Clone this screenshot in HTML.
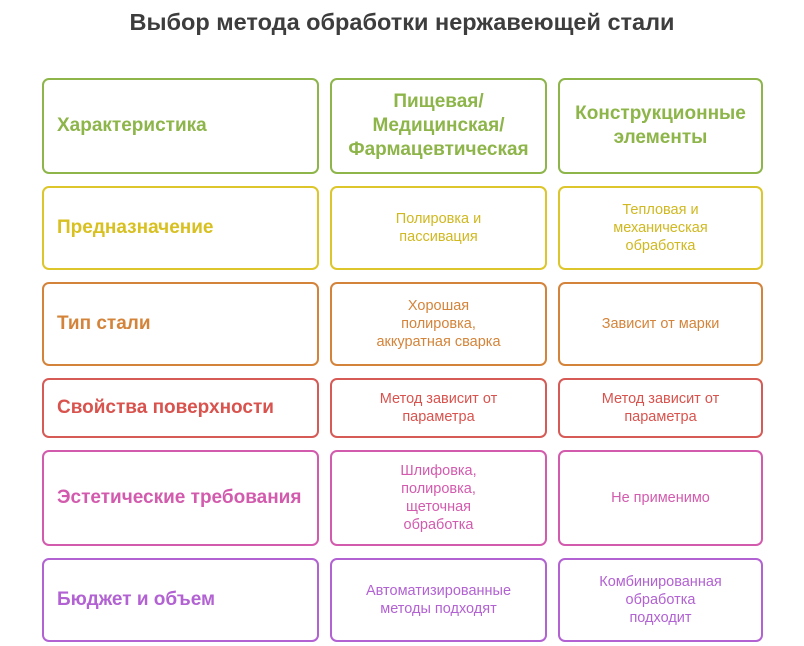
<!DOCTYPE html>
<html><head><meta charset="utf-8"><style>
body{margin:0;width:804px;height:646px;background:#fff;font-family:"Liberation Sans",sans-serif;position:relative;overflow:hidden}
.t{position:absolute;left:0;width:804px;top:9px;text-align:center;font-size:23.5px;font-weight:bold;color:#3d3d3d}
.b{position:absolute;box-sizing:border-box;border:2px solid;border-radius:7px;display:flex;align-items:center;justify-content:center;text-align:center;font-size:14.5px;line-height:18px;padding:0 6px}
.h{justify-content:flex-start;font-weight:bold;font-size:19px;padding-left:13px}
.hc{font-weight:bold;font-size:19px;line-height:24px}
</style></head><body>
<div class="t">Выбор метода обработки нержавеющей стали</div>

<div class="b h" style="left:42px;top:78px;width:277px;height:96px;border-color:#8db54a;color:#8db54a">Характеристика</div>
<div class="b hc" style="left:330px;top:78px;width:217px;height:96px;border-color:#8db54a;color:#8db54a">Пищевая/<br>Медицинская/<br>Фармацевтическая</div>
<div class="b hc" style="left:558px;top:78px;width:205px;height:96px;border-color:#8db54a;color:#8db54a">Конструкционные<br>элементы</div>

<div class="b h" style="left:42px;top:186px;width:277px;height:84px;border-color:#dcc62c;color:#d8c020">Предназначение</div>
<div class="b" style="left:330px;top:186px;width:217px;height:84px;border-color:#dcc62c;color:#d0b820">Полировка и<br>пассивация</div>
<div class="b" style="left:558px;top:186px;width:205px;height:84px;border-color:#dcc62c;color:#d0b820">Тепловая и<br>механическая<br>обработка</div>

<div class="b h" style="left:42px;top:282px;width:277px;height:84px;border-color:#d4843a;color:#d4843a">Тип стали</div>
<div class="b" style="left:330px;top:282px;width:217px;height:84px;border-color:#d4843a;color:#d4843a">Хорошая<br>полировка,<br>аккуратная сварка</div>
<div class="b" style="left:558px;top:282px;width:205px;height:84px;border-color:#d4843a;color:#d4843a">Зависит от марки</div>

<div class="b h" style="left:42px;top:378px;width:277px;height:60px;border-color:#d65a55;color:#d9534e">Свойства поверхности</div>
<div class="b" style="left:330px;top:378px;width:217px;height:60px;border-color:#d65a55;color:#d9534e">Метод зависит от<br>параметра</div>
<div class="b" style="left:558px;top:378px;width:205px;height:60px;border-color:#d65a55;color:#d9534e">Метод зависит от<br>параметра</div>

<div class="b h" style="left:42px;top:450px;width:277px;height:96px;border-color:#d35bae;color:#d35bae">Эстетические требования</div>
<div class="b" style="left:330px;top:450px;width:217px;height:96px;border-color:#d35bae;color:#d35bae">Шлифовка,<br>полировка,<br>щеточная<br>обработка</div>
<div class="b" style="left:558px;top:450px;width:205px;height:96px;border-color:#d35bae;color:#d35bae">Не применимо</div>

<div class="b h" style="left:42px;top:558px;width:277px;height:84px;border-color:#b262d2;color:#b262d2">Бюджет и объем</div>
<div class="b" style="left:330px;top:558px;width:217px;height:84px;border-color:#b262d2;color:#b262d2">Автоматизированные<br>методы подходят</div>
<div class="b" style="left:558px;top:558px;width:205px;height:84px;border-color:#b262d2;color:#b262d2">Комбинированная<br>обработка<br>подходит</div>
</body></html>
